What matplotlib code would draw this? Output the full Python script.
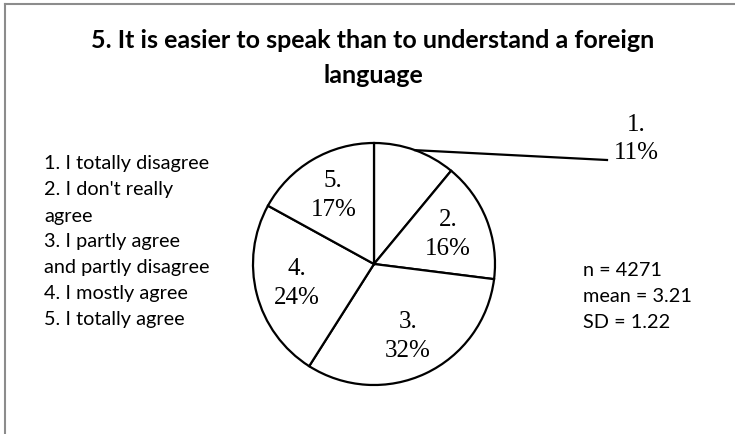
import numpy as np
import matplotlib.pyplot as plt
from matplotlib.lines import Line2D

# Survey answers, item 5
categories = ["1", "2", "3", "4", "5"]
shares = [11, 16, 32, 24, 17]
legend_lines = [
    "1. I totally disagree",
    "2. I don't really",
    "agree",
    "3. I partly agree",
    "and partly disagree",
    "4. I mostly agree",
    "5. I totally agree",
]
stats_lines = ["n = 4271", "mean = 3.21", "SD = 1.22"]
title = "5. It is easier to speak than to understand a foreign\nlanguage"

W, H = 735, 434
fig = plt.figure(figsize=(W / 100, H / 100), dpi=100)
ax = fig.add_axes([0, 0, 1, 1])

cx, cy, r = 374, H - 264, 121
wedges, texts = ax.pie(
    shares,
    labels=[f"{c}.\n{s}%" for c, s in zip(categories, shares)],
    startangle=90,
    counterclock=False,
    center=(cx, cy),
    radius=r,
    labeldistance=0.66,
    wedgeprops=dict(facecolor="white", edgecolor="black", linewidth=1.6),
    textprops=dict(family="Liberation Serif", fontsize=18, linespacing=1.4),
)
for t in texts:
    t.set_ha("center")
    t.set_va("center")

# first slice is labelled outside with a leader line
w0 = wedges[0]
mid = np.deg2rad((w0.theta1 + w0.theta2) / 2)
ex, ey = cx + r * np.cos(mid), cy + r * np.sin(mid)
ax.plot([ex, 607], [ey, H - 160], color="black", lw=1.6)
texts[0].set_position((636, H - 139))

ax.set_xlim(0, W)
ax.set_ylim(0, H)
ax.axis("off")

fig.text(373 / W, 1 - 58 / H, title, ha="center", va="center",
         family="Lato", weight="bold", fontsize=18, linespacing=1.65)

for i, line in enumerate(legend_lines):
    fig.text(44 / W, 1 - (164 + i * 26) / H, line, ha="left", va="center",
             family="Lato", fontsize=14.3)

for i, line in enumerate(stats_lines):
    fig.text(583 / W, 1 - (270 + i * 26) / H, line, ha="left", va="center",
             family="Lato", fontsize=14.3)

# frame on the top and left edges
fig.add_artist(Line2D([5 / W, 5 / W], [0, 1 - 4 / H], color="#8c8c8c", lw=1.5))
fig.add_artist(Line2D([5 / W, 1], [1 - 4 / H, 1 - 4 / H], color="#8c8c8c", lw=1.5))

fig.savefig("out.png", dpi=100)
